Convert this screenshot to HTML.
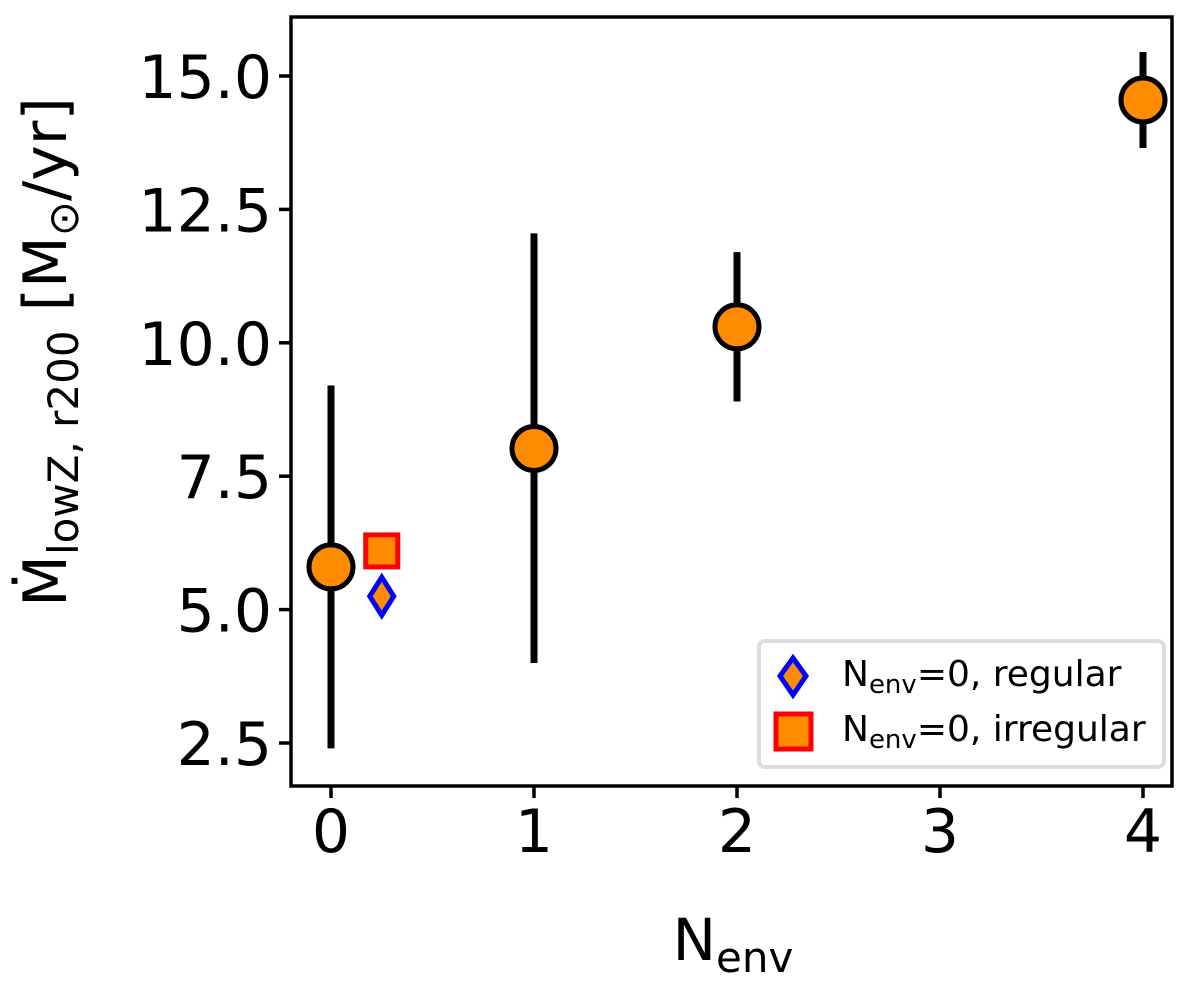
<!DOCTYPE html>
<html><head><meta charset="utf-8"><style>
html,body{margin:0;padding:0;background:#fff;}
svg text{font-family:"DejaVu Sans","Liberation Sans",sans-serif;fill:#000;}
</style></head><body>
<svg id="chart" width="1200" height="979" xmlns="http://www.w3.org/2000/svg">
<rect x="291" y="17" width="881" height="769" fill="none" stroke="#000" stroke-width="3.5"/>
<g id="marks"></g>
<g>
<rect x="759" y="641" width="405" height="126" rx="6" fill="#fff" stroke="#ddd" stroke-width="4"/>
<polygon points="793,658 806,676 793,695 780,676" fill="#ff8c00" stroke="#0000ff" stroke-width="5"/>
<rect x="776" y="714" width="35" height="35" fill="#ff8c00" stroke="#ff0000" stroke-width="5"/>
<text x="842" y="686" font-size="36">N<tspan font-size="26" dy="7">env</tspan><tspan dy="-7">=0, regular</tspan></text>
<text x="842" y="741" font-size="36">N<tspan font-size="26" dy="7">env</tspan><tspan dy="-7">=0, irregular</tspan></text>
</g>
<text x="733" y="960" font-size="58" text-anchor="middle">N<tspan font-size="42" dy="12">env</tspan></text>
<text transform="translate(66,352) rotate(-90)" font-size="60" text-anchor="middle">Ṁ<tspan font-size="42" dy="12">lowZ, r200</tspan><tspan dy="-12"> [M</tspan><tspan font-size="42" dy="12">⊙</tspan><tspan dy="-12">/yr]</tspan></text>
</svg>
<script>
const xs=[0,1,2,4];
const ys=[5.8,8.02,10.3,14.55];
const yLo=[2.4,4.0,8.9,13.65];
const yHi=[9.2,12.05,11.7,15.45];
const regX=[0.25], regY=[5.25];
const irrX=[0.25], irrY=[6.1];
const xTicks=[0,1,2,3,4];
const yTicks=[2.5,5.0,7.5,10.0,12.5,15.0];
const X=v=>331+v*203;
const Y=v=>743-(v-2.5)*53.36;
const NS="http://www.w3.org/2000/svg";
const svg=document.getElementById('chart');
const g=document.getElementById('marks');
function mk(t,a,p){const e=document.createElementNS(NS,t);for(const k in a)e.setAttribute(k,a[k]);(p||svg).appendChild(e);return e;}
xTicks.forEach(t=>{
 const l=mk('line',{x1:X(t),x2:X(t),y1:786,y2:798,stroke:'#000','stroke-width':3.5});
 
 
 const tx=mk('text',{x:X(t),y:852,'font-size':60,'text-anchor':'middle'});tx.textContent=t;
 
 
});
yTicks.forEach(t=>{
 const l=mk('line',{x1:279,x2:291,y1:Y(t),y2:Y(t),stroke:'#000','stroke-width':3.5});
 
 
 const tx=mk('text',{x:272,y:Y(t)+22,'font-size':60,'text-anchor':'end'});tx.textContent=t.toFixed(1);
 
 
});
xs.forEach((x,i)=>{
 const e=mk('line',{x1:X(x),x2:X(x),y1:Y(yLo[i]),y2:Y(yHi[i]),stroke:'#000','stroke-width':7},g);
 
 
});
xs.forEach((x,i)=>{
 const c=mk('circle',{cx:X(x),cy:Y(ys[i]),r:22,fill:'#ff8c00',stroke:'#000','stroke-width':5},g);
 
 
});
regX.forEach((x,i)=>{
 const cx=X(x),cy=Y(regY[i]);
 const d=mk('polygon',{points:`${cx},${cy-19} ${cx+12},${cy} ${cx},${cy+19} ${cx-12},${cy}`,fill:'#ff8c00',stroke:'#0000ff','stroke-width':5},g);
 
 
});
irrX.forEach((x,i)=>{
 const cx=X(x),cy=Y(irrY[i]);
 const s=mk('rect',{x:cx-16,y:cy-16,width:32,height:32,fill:'#ff8c00',stroke:'#ff0000','stroke-width':5},g);
 
 
});
</script>
</body></html>
